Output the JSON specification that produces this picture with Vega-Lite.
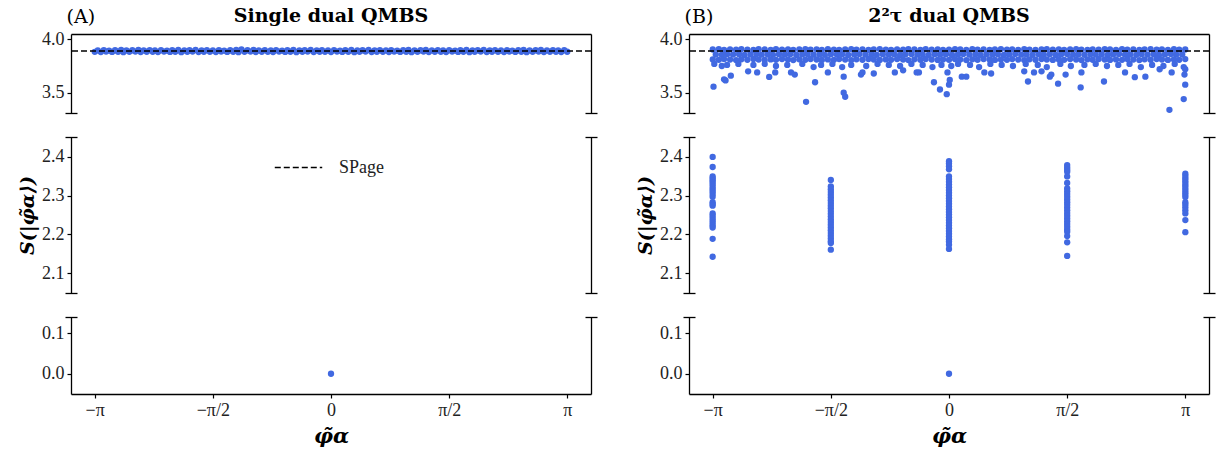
{
"$schema": "https://vega.github.io/schema/vega-lite/v6.json",
"padding": {"left": 18, "top": 7, "right": 2, "bottom": 2},
"config": {
  "font": "Liberation Serif",
  "view": {"stroke": null},
  "axis": {"grid": false, "domainColor": "black", "domainWidth": 1.3, "tickColor": "black", "tickWidth": 1.2, "tickSize": 4, "labelFont": "Liberation Serif", "labelFontSize": 18, "labelColor": "#222", "labelPadding": 3, "titleFont": "DejaVu Serif", "titleColor": "black"},
  "title": {"font": "DejaVu Serif", "fontSize": 19, "fontWeight": "bold", "color": "black"},
  "circle": {"color": "#4169e1", "opacity": 1, "size": 40}
},
"datasets": {
"z": [{"x": 0, "y": 0}],
"a": [{"x":-3.14,"y":3.883},{"x":-3.06,"y":3.881},{"x":-2.99,"y":3.885},{"x":-2.91,"y":3.882},{"x":-2.83,"y":3.884},{"x":-2.76,"y":3.88},{"x":-2.68,"y":3.883},{"x":-2.6,"y":3.885},{"x":-2.53,"y":3.881},{"x":-2.45,"y":3.884},{"x":-2.37,"y":3.883},{"x":-2.3,"y":3.881},{"x":-2.22,"y":3.885},{"x":-2.14,"y":3.882},{"x":-2.07,"y":3.884},{"x":-1.99,"y":3.88},{"x":-1.91,"y":3.883},{"x":-1.84,"y":3.885},{"x":-1.76,"y":3.881},{"x":-1.69,"y":3.884},{"x":-1.61,"y":3.883},{"x":-1.53,"y":3.881},{"x":-1.46,"y":3.885},{"x":-1.38,"y":3.882},{"x":-1.3,"y":3.884},{"x":-1.23,"y":3.88},{"x":-1.15,"y":3.883},{"x":-1.07,"y":3.885},{"x":-1.0,"y":3.881},{"x":-0.92,"y":3.884},{"x":-0.84,"y":3.883},{"x":-0.77,"y":3.881},{"x":-0.69,"y":3.885},{"x":-0.61,"y":3.882},{"x":-0.54,"y":3.884},{"x":-0.46,"y":3.88},{"x":-0.38,"y":3.883},{"x":-0.31,"y":3.885},{"x":-0.23,"y":3.881},{"x":-0.15,"y":3.884},{"x":-0.08,"y":3.883},{"x":0,"y":3.881},{"x":0.08,"y":3.885},{"x":0.15,"y":3.882},{"x":0.23,"y":3.884},{"x":0.31,"y":3.88},{"x":0.38,"y":3.883},{"x":0.46,"y":3.885},{"x":0.54,"y":3.881},{"x":0.61,"y":3.884},{"x":0.69,"y":3.883},{"x":0.77,"y":3.881},{"x":0.84,"y":3.885},{"x":0.92,"y":3.882},{"x":1.0,"y":3.884},{"x":1.07,"y":3.88},{"x":1.15,"y":3.883},{"x":1.23,"y":3.885},{"x":1.3,"y":3.881},{"x":1.38,"y":3.884},{"x":1.46,"y":3.883},{"x":1.53,"y":3.881},{"x":1.61,"y":3.885},{"x":1.69,"y":3.882},{"x":1.76,"y":3.884},{"x":1.84,"y":3.88},{"x":1.91,"y":3.883},{"x":1.99,"y":3.885},{"x":2.07,"y":3.881},{"x":2.14,"y":3.884},{"x":2.22,"y":3.883},{"x":2.3,"y":3.881},{"x":2.37,"y":3.885},{"x":2.45,"y":3.882},{"x":2.53,"y":3.884},{"x":2.6,"y":3.88},{"x":2.68,"y":3.883},{"x":2.76,"y":3.885},{"x":2.83,"y":3.881},{"x":2.91,"y":3.884},{"x":2.99,"y":3.883},{"x":3.06,"y":3.881},{"x":3.14,"y":3.884},
{"x":-3.1,"y":3.897},{"x":-3.02,"y":3.899},{"x":-2.95,"y":3.895},{"x":-2.87,"y":3.898},{"x":-2.79,"y":3.9},{"x":-2.72,"y":3.896},{"x":-2.64,"y":3.898},{"x":-2.56,"y":3.901},{"x":-2.49,"y":3.897},{"x":-2.41,"y":3.899},{"x":-2.34,"y":3.897},{"x":-2.26,"y":3.899},{"x":-2.18,"y":3.895},{"x":-2.11,"y":3.898},{"x":-2.03,"y":3.9},{"x":-1.95,"y":3.896},{"x":-1.88,"y":3.898},{"x":-1.8,"y":3.901},{"x":-1.72,"y":3.897},{"x":-1.65,"y":3.899},{"x":-1.57,"y":3.897},{"x":-1.49,"y":3.899},{"x":-1.42,"y":3.895},{"x":-1.34,"y":3.898},{"x":-1.26,"y":3.9},{"x":-1.19,"y":3.906},{"x":-1.11,"y":3.898},{"x":-1.03,"y":3.901},{"x":-0.96,"y":3.897},{"x":-0.88,"y":3.899},{"x":-0.8,"y":3.897},{"x":-0.73,"y":3.899},{"x":-0.65,"y":3.895},{"x":-0.58,"y":3.898},{"x":-0.5,"y":3.9},{"x":-0.42,"y":3.896},{"x":-0.35,"y":3.898},{"x":-0.27,"y":3.901},{"x":-0.19,"y":3.897},{"x":-0.12,"y":3.899},{"x":-0.04,"y":3.897},{"x":0.04,"y":3.899},{"x":0.12,"y":3.895},{"x":0.19,"y":3.898},{"x":0.27,"y":3.9},{"x":0.35,"y":3.896},{"x":0.42,"y":3.898},{"x":0.5,"y":3.901},{"x":0.58,"y":3.897},{"x":0.65,"y":3.899},{"x":0.73,"y":3.897},{"x":0.8,"y":3.899},{"x":0.88,"y":3.895},{"x":0.96,"y":3.898},{"x":1.03,"y":3.9},{"x":1.11,"y":3.896},{"x":1.19,"y":3.898},{"x":1.26,"y":3.901},{"x":1.34,"y":3.897},{"x":1.42,"y":3.899},{"x":1.49,"y":3.897},{"x":1.57,"y":3.899},{"x":1.65,"y":3.895},{"x":1.72,"y":3.898},{"x":1.8,"y":3.9},{"x":1.88,"y":3.896},{"x":1.95,"y":3.898},{"x":2.03,"y":3.901},{"x":2.11,"y":3.897},{"x":2.18,"y":3.899},{"x":2.26,"y":3.897},{"x":2.34,"y":3.899},{"x":2.41,"y":3.895},{"x":2.49,"y":3.898},{"x":2.56,"y":3.9},{"x":2.64,"y":3.896},{"x":2.72,"y":3.898},{"x":2.79,"y":3.901},{"x":2.87,"y":3.897},{"x":2.95,"y":3.899},{"x":3.02,"y":3.897},{"x":3.1,"y":3.899}],
"b": [{"x":-3.14,"y":3.905},{"x":-3.06,"y":3.908},{"x":-2.99,"y":3.902},{"x":-2.91,"y":3.906},{"x":-2.83,"y":3.903},{"x":-2.76,"y":3.909},{"x":-2.68,"y":3.904},{"x":-2.6,"y":3.901},{"x":-2.53,"y":3.907},{"x":-2.45,"y":3.905},{"x":-2.37,"y":3.902},{"x":-2.3,"y":3.908},{"x":-2.22,"y":3.904},{"x":-2.14,"y":3.906},{"x":-2.07,"y":3.901},{"x":-1.99,"y":3.905},{"x":-1.91,"y":3.909},{"x":-1.84,"y":3.903},{"x":-1.76,"y":3.906},{"x":-1.69,"y":3.902},{"x":-1.61,"y":3.907},{"x":-1.53,"y":3.904},{"x":-1.46,"y":3.901},{"x":-1.38,"y":3.905},{"x":-1.3,"y":3.908},{"x":-1.23,"y":3.903},{"x":-1.15,"y":3.906},{"x":-1.07,"y":3.902},{"x":-1.0,"y":3.905},{"x":-0.92,"y":3.909},{"x":-0.84,"y":3.904},{"x":-0.77,"y":3.901},{"x":-0.69,"y":3.906},{"x":-0.61,"y":3.903},{"x":-0.54,"y":3.907},{"x":-0.46,"y":3.905},{"x":-0.38,"y":3.902},{"x":-0.31,"y":3.908},{"x":-0.23,"y":3.904},{"x":-0.15,"y":3.906},{"x":-0.08,"y":3.9},{"x":0,"y":3.903},{"x":0.08,"y":3.907},{"x":0.15,"y":3.905},{"x":0.23,"y":3.902},{"x":0.31,"y":3.908},{"x":0.38,"y":3.904},{"x":0.46,"y":3.906},{"x":0.54,"y":3.901},{"x":0.61,"y":3.905},{"x":0.69,"y":3.909},{"x":0.77,"y":3.903},{"x":0.84,"y":3.906},{"x":0.92,"y":3.902},{"x":1.0,"y":3.907},{"x":1.07,"y":3.904},{"x":1.15,"y":3.901},{"x":1.23,"y":3.905},{"x":1.3,"y":3.908},{"x":1.38,"y":3.903},{"x":1.46,"y":3.906},{"x":1.53,"y":3.9},{"x":1.61,"y":3.905},{"x":1.69,"y":3.909},{"x":1.76,"y":3.904},{"x":1.84,"y":3.901},{"x":1.91,"y":3.906},{"x":1.99,"y":3.903},{"x":2.07,"y":3.907},{"x":2.14,"y":3.905},{"x":2.22,"y":3.902},{"x":2.3,"y":3.908},{"x":2.37,"y":3.904},{"x":2.45,"y":3.906},{"x":2.53,"y":3.901},{"x":2.6,"y":3.905},{"x":2.68,"y":3.909},{"x":2.76,"y":3.903},{"x":2.83,"y":3.906},{"x":2.91,"y":3.902},{"x":2.99,"y":3.907},{"x":3.06,"y":3.904},{"x":3.14,"y":3.905},
{"x":-3.1,"y":3.858},{"x":-3.02,"y":3.855},{"x":-2.95,"y":3.861},{"x":-2.87,"y":3.857},{"x":-2.79,"y":3.86},{"x":-2.72,"y":3.854},{"x":-2.64,"y":3.859},{"x":-2.56,"y":3.862},{"x":-2.49,"y":3.856},{"x":-2.41,"y":3.858},{"x":-2.34,"y":3.855},{"x":-2.26,"y":3.861},{"x":-2.18,"y":3.857},{"x":-2.11,"y":3.86},{"x":-2.03,"y":3.854},{"x":-1.95,"y":3.859},{"x":-1.88,"y":3.862},{"x":-1.8,"y":3.856},{"x":-1.72,"y":3.858},{"x":-1.65,"y":3.855},{"x":-1.57,"y":3.861},{"x":-1.49,"y":3.857},{"x":-1.42,"y":3.86},{"x":-1.34,"y":3.854},{"x":-1.26,"y":3.859},{"x":-1.19,"y":3.862},{"x":-1.11,"y":3.856},{"x":-1.03,"y":3.858},{"x":-0.96,"y":3.855},{"x":-0.88,"y":3.861},{"x":-0.8,"y":3.857},{"x":-0.73,"y":3.86},{"x":-0.65,"y":3.854},{"x":-0.58,"y":3.859},{"x":-0.5,"y":3.862},{"x":-0.42,"y":3.856},{"x":-0.35,"y":3.858},{"x":-0.27,"y":3.855},{"x":-0.19,"y":3.861},{"x":-0.12,"y":3.857},{"x":-0.04,"y":3.86},{"x":0.04,"y":3.854},{"x":0.12,"y":3.859},{"x":0.19,"y":3.862},{"x":0.27,"y":3.856},{"x":0.35,"y":3.858},{"x":0.42,"y":3.855},{"x":0.5,"y":3.861},{"x":0.58,"y":3.857},{"x":0.65,"y":3.86},{"x":0.73,"y":3.854},{"x":0.8,"y":3.859},{"x":0.88,"y":3.862},{"x":0.96,"y":3.856},{"x":1.03,"y":3.858},{"x":1.11,"y":3.855},{"x":1.19,"y":3.861},{"x":1.26,"y":3.857},{"x":1.34,"y":3.86},{"x":1.42,"y":3.854},{"x":1.49,"y":3.859},{"x":1.57,"y":3.862},{"x":1.65,"y":3.856},{"x":1.72,"y":3.858},{"x":1.8,"y":3.855},{"x":1.88,"y":3.861},{"x":1.95,"y":3.857},{"x":2.03,"y":3.86},{"x":2.11,"y":3.854},{"x":2.18,"y":3.859},{"x":2.26,"y":3.862},{"x":2.34,"y":3.856},{"x":2.41,"y":3.858},{"x":2.49,"y":3.855},{"x":2.56,"y":3.861},{"x":2.64,"y":3.857},{"x":2.72,"y":3.86},{"x":2.79,"y":3.854},{"x":2.87,"y":3.859},{"x":2.95,"y":3.862},{"x":3.02,"y":3.856},{"x":3.1,"y":3.858},
{"x":-3.14,"y":3.812},{"x":-3.06,"y":3.808},{"x":-2.99,"y":3.815},{"x":-2.91,"y":3.81},{"x":-2.83,"y":3.806},{"x":-2.76,"y":3.813},{"x":-2.68,"y":3.809},{"x":-2.6,"y":3.816},{"x":-2.53,"y":3.811},{"x":-2.45,"y":3.807},{"x":-2.37,"y":3.812},{"x":-2.3,"y":3.808},{"x":-2.22,"y":3.815},{"x":-2.14,"y":3.81},{"x":-2.07,"y":3.806},{"x":-1.99,"y":3.813},{"x":-1.91,"y":3.809},{"x":-1.84,"y":3.816},{"x":-1.76,"y":3.811},{"x":-1.69,"y":3.807},{"x":-1.61,"y":3.812},{"x":-1.53,"y":3.808},{"x":-1.46,"y":3.815},{"x":-1.38,"y":3.81},{"x":-1.3,"y":3.806},{"x":-1.23,"y":3.813},{"x":-1.15,"y":3.809},{"x":-1.07,"y":3.816},{"x":-1.0,"y":3.811},{"x":-0.92,"y":3.807},{"x":-0.84,"y":3.812},{"x":-0.77,"y":3.808},{"x":-0.69,"y":3.815},{"x":-0.61,"y":3.81},{"x":-0.54,"y":3.806},{"x":-0.46,"y":3.813},{"x":-0.38,"y":3.809},{"x":-0.31,"y":3.816},{"x":-0.23,"y":3.811},{"x":-0.15,"y":3.807},{"x":-0.08,"y":3.812},{"x":0,"y":3.808},{"x":0.08,"y":3.815},{"x":0.15,"y":3.81},{"x":0.23,"y":3.806},{"x":0.31,"y":3.813},{"x":0.38,"y":3.809},{"x":0.46,"y":3.816},{"x":0.54,"y":3.811},{"x":0.61,"y":3.807},{"x":0.69,"y":3.812},{"x":0.77,"y":3.808},{"x":0.84,"y":3.815},{"x":0.92,"y":3.81},{"x":1.0,"y":3.806},{"x":1.07,"y":3.813},{"x":1.15,"y":3.809},{"x":1.23,"y":3.816},{"x":1.3,"y":3.811},{"x":1.38,"y":3.807},{"x":1.46,"y":3.812},{"x":1.53,"y":3.808},{"x":1.61,"y":3.815},{"x":1.69,"y":3.81},{"x":1.76,"y":3.806},{"x":1.84,"y":3.813},{"x":1.91,"y":3.809},{"x":1.99,"y":3.816},{"x":2.07,"y":3.811},{"x":2.14,"y":3.807},{"x":2.22,"y":3.812},{"x":2.3,"y":3.808},{"x":2.37,"y":3.815},{"x":2.45,"y":3.81},{"x":2.53,"y":3.806},{"x":2.6,"y":3.813},{"x":2.68,"y":3.809},{"x":2.76,"y":3.816},{"x":2.83,"y":3.811},{"x":2.91,"y":3.807},{"x":2.99,"y":3.812},{"x":3.06,"y":3.808},{"x":3.14,"y":3.815},
{"x":-3.12,"y":3.77},{"x":-3.02,"y":3.75},{"x":-2.95,"y":3.76},{"x":-2.8,"y":3.77},{"x":-2.6,"y":3.76},{"x":-2.45,"y":3.77},{"x":-2.3,"y":3.75},{"x":-2.15,"y":3.76},{"x":-1.95,"y":3.77},{"x":-1.8,"y":3.74},{"x":-1.7,"y":3.76},{"x":-1.55,"y":3.77},{"x":-1.42,"y":3.74},{"x":-1.3,"y":3.76},{"x":-1.1,"y":3.75},{"x":-0.95,"y":3.77},{"x":-0.8,"y":3.76},{"x":-0.65,"y":3.75},{"x":-0.5,"y":3.77},{"x":-0.35,"y":3.76},{"x":-0.22,"y":3.74},{"x":-0.1,"y":3.76},{"x":0.03,"y":3.75},{"x":0.12,"y":3.77},{"x":0.28,"y":3.76},{"x":0.4,"y":3.74},{"x":0.55,"y":3.77},{"x":0.7,"y":3.76},{"x":0.85,"y":3.75},{"x":1.02,"y":3.77},{"x":1.18,"y":3.76},{"x":1.3,"y":3.74},{"x":1.48,"y":3.77},{"x":1.62,"y":3.75},{"x":1.8,"y":3.76},{"x":1.95,"y":3.77},{"x":2.1,"y":3.75},{"x":2.25,"y":3.76},{"x":2.4,"y":3.77},{"x":2.55,"y":3.74},{"x":2.7,"y":3.76},{"x":2.85,"y":3.75},{"x":3.0,"y":3.77},{"x":3.12,"y":3.74},{"x":3.14,"y":3.72},
{"x":-3.13,"y":3.557},{"x":-2.99,"y":3.625},{"x":-2.97,"y":3.615},{"x":-2.9,"y":3.66},{"x":-2.67,"y":3.7},{"x":-2.55,"y":3.69},{"x":-2.39,"y":3.648},{"x":-2.31,"y":3.69},{"x":-2.1,"y":3.69},{"x":-2.05,"y":3.67},{"x":-1.9,"y":3.415},{"x":-1.78,"y":3.598},{"x":-1.61,"y":3.69},{"x":-1.4,"y":3.65},{"x":-1.4,"y":3.5},{"x":-1.38,"y":3.462},{"x":-1.17,"y":3.67},{"x":-1.15,"y":3.69},{"x":-1.0,"y":3.68},{"x":-0.72,"y":3.69},{"x":-0.61,"y":3.71},{"x":-0.43,"y":3.69},{"x":-0.4,"y":3.69},{"x":-0.2,"y":3.598},{"x":-0.12,"y":3.53},{"x":-0.03,"y":3.486},{"x":-0.02,"y":3.69},{"x":0.0,"y":3.575},{"x":0.01,"y":3.62},{"x":0.17,"y":3.65},{"x":0.23,"y":3.65},{"x":0.47,"y":3.69},{"x":0.56,"y":3.68},{"x":1.0,"y":3.7},{"x":1.05,"y":3.605},{"x":1.13,"y":3.69},{"x":1.23,"y":3.7},{"x":1.34,"y":3.65},{"x":1.36,"y":3.67},{"x":1.45,"y":3.585},{"x":1.55,"y":3.67},{"x":1.76,"y":3.69},{"x":1.75,"y":3.55},{"x":2.06,"y":3.605},{"x":2.34,"y":3.69},{"x":2.47,"y":3.646},{"x":2.61,"y":3.65},{"x":2.8,"y":3.72},{"x":2.96,"y":3.69},{"x":2.93,"y":3.34},{"x":3.13,"y":3.67},{"x":3.12,"y":3.44},{"x":3.14,"y":3.575}],
"m": [{"x":-3.1416,"y":2.399},{"x":-3.1416,"y":2.373},{"x":-3.1416,"y":2.349},{"x":-3.1416,"y":2.344},{"x":-3.1416,"y":2.339},{"x":-3.1416,"y":2.334},{"x":-3.1416,"y":2.328},{"x":-3.1416,"y":2.322},{"x":-3.1416,"y":2.316},{"x":-3.1416,"y":2.31},{"x":-3.1416,"y":2.304},{"x":-3.1416,"y":2.297},{"x":-3.1416,"y":2.283},{"x":-3.1416,"y":2.278},{"x":-3.1416,"y":2.274},{"x":-3.1416,"y":2.254},{"x":-3.1416,"y":2.248},{"x":-3.1416,"y":2.242},{"x":-3.1416,"y":2.236},{"x":-3.1416,"y":2.23},{"x":-3.1416,"y":2.224},{"x":-3.1416,"y":2.218},{"x":-3.1416,"y":2.189},{"x":-3.1416,"y":2.143},
{"x":-1.5708,"y":2.34},{"x":-1.5708,"y":2.323},{"x":-1.5708,"y":2.316},{"x":-1.5708,"y":2.309},{"x":-1.5708,"y":2.302},{"x":-1.5708,"y":2.295},{"x":-1.5708,"y":2.288},{"x":-1.5708,"y":2.281},{"x":-1.5708,"y":2.274},{"x":-1.5708,"y":2.267},{"x":-1.5708,"y":2.26},{"x":-1.5708,"y":2.253},{"x":-1.5708,"y":2.246},{"x":-1.5708,"y":2.239},{"x":-1.5708,"y":2.232},{"x":-1.5708,"y":2.225},{"x":-1.5708,"y":2.218},{"x":-1.5708,"y":2.211},{"x":-1.5708,"y":2.204},{"x":-1.5708,"y":2.197},{"x":-1.5708,"y":2.19},{"x":-1.5708,"y":2.183},{"x":-1.5708,"y":2.178},{"x":-1.5708,"y":2.161},
{"x":0,"y":2.388},{"x":0,"y":2.382},{"x":0,"y":2.375},{"x":0,"y":2.367},{"x":0,"y":2.349},{"x":0,"y":2.342},{"x":0,"y":2.335},{"x":0,"y":2.328},{"x":0,"y":2.321},{"x":0,"y":2.314},{"x":0,"y":2.307},{"x":0,"y":2.3},{"x":0,"y":2.293},{"x":0,"y":2.286},{"x":0,"y":2.279},{"x":0,"y":2.272},{"x":0,"y":2.265},{"x":0,"y":2.258},{"x":0,"y":2.251},{"x":0,"y":2.244},{"x":0,"y":2.237},{"x":0,"y":2.23},{"x":0,"y":2.223},{"x":0,"y":2.216},{"x":0,"y":2.209},{"x":0,"y":2.202},{"x":0,"y":2.195},{"x":0,"y":2.188},{"x":0,"y":2.182},{"x":0,"y":2.174},{"x":0,"y":2.163},
{"x":1.5708,"y":2.378},{"x":1.5708,"y":2.372},{"x":1.5708,"y":2.366},{"x":1.5708,"y":2.361},{"x":1.5708,"y":2.349},{"x":1.5708,"y":2.332},{"x":1.5708,"y":2.318},{"x":1.5708,"y":2.311},{"x":1.5708,"y":2.304},{"x":1.5708,"y":2.297},{"x":1.5708,"y":2.29},{"x":1.5708,"y":2.283},{"x":1.5708,"y":2.276},{"x":1.5708,"y":2.269},{"x":1.5708,"y":2.262},{"x":1.5708,"y":2.255},{"x":1.5708,"y":2.248},{"x":1.5708,"y":2.241},{"x":1.5708,"y":2.234},{"x":1.5708,"y":2.227},{"x":1.5708,"y":2.22},{"x":1.5708,"y":2.213},{"x":1.5708,"y":2.207},{"x":1.5708,"y":2.196},{"x":1.5708,"y":2.18},{"x":1.5708,"y":2.145},
{"x":3.1416,"y":2.356},{"x":3.1416,"y":2.35},{"x":3.1416,"y":2.344},{"x":3.1416,"y":2.338},{"x":3.1416,"y":2.332},{"x":3.1416,"y":2.326},{"x":3.1416,"y":2.32},{"x":3.1416,"y":2.314},{"x":3.1416,"y":2.308},{"x":3.1416,"y":2.302},{"x":3.1416,"y":2.296},{"x":3.1416,"y":2.283},{"x":3.1416,"y":2.277},{"x":3.1416,"y":2.27},{"x":3.1416,"y":2.262},{"x":3.1416,"y":2.254},{"x":3.1416,"y":2.237},{"x":3.1416,"y":2.206}]
},
"spacing": 38,
"hconcat": [
{
 "title": {"text": "(A)", "anchor": "start", "font": "DejaVu Serif", "fontWeight": "normal", "fontSize": 19, "dy": 24, "dx": 48},
 "spacing": 22,
 "vconcat": [
  {"width": 520, "height": 79,
   "title": {"text": "Single dual QMBS", "offset": 4},
   "layer": [
    {"data": {"name": "a"}, "mark": {"type": "circle"},
     "encoding": {"x": {"field": "x", "type": "quantitative", "scale": {"domain": [-3.456, 3.456], "nice": false, "zero": false}, "axis": {"orient": "top", "labels": false, "ticks": false, "title": null}},
                  "y": {"field": "y", "type": "quantitative", "scale": {"domain": [3.31, 4.05], "nice": false, "zero": false}, "axis": {"values": [3.5, 4.0], "format": ".1f", "title": null}}}},
    {"data": {"values": [{"v": 3.89, "k": "SPage"}]}, "mark": {"type": "rule", "strokeWidth": 1.5, "color": "black"},
     "encoding": {"y": {"field": "v", "type": "quantitative", "axis": null},
                  "strokeDash": {"field": "k", "type": "nominal", "scale": {"range": [[6, 3]]}, "legend": {"orient": "none", "legendX": 203, "legendY": 109, "title": null, "symbolType": "stroke", "symbolSize": 2250, "symbolStrokeWidth": 1.5, "symbolStrokeColor": "black", "labelFontSize": 18, "labelFont": "Liberation Serif", "labelColor": "#222", "labelOffset": 16}}}},
    {"data": {"name": "z"}, "mark": {"type": "point", "opacity": 0}, "encoding": {"x": {"datum": 0, "type": "quantitative"}, "y": {"datum": 3.5, "type": "quantitative", "axis": {"orient": "right", "labels": false, "ticks": false, "title": null}}}},
    {"data": {"name": "z"}, "mark": {"type": "point", "opacity": 0}, "encoding": {"x": {"datum": 0, "type": "quantitative"}, "y": {"datum": 3.5, "type": "quantitative", "axis": {"orient": "left", "offset": -6, "domain": false, "labels": false, "title": null, "values": [3.31], "tickSize": 12, "tickWidth": 1.3}}}},
    {"data": {"name": "z"}, "mark": {"type": "point", "opacity": 0}, "encoding": {"x": {"datum": 0, "type": "quantitative"}, "y": {"datum": 3.5, "type": "quantitative", "axis": {"orient": "right", "offset": -6, "domain": false, "labels": false, "title": null, "values": [3.31], "tickSize": 12, "tickWidth": 1.3}}}}
   ],
   "resolve": {"axis": {"y": "independent"}}
  },
  {"width": 520, "height": 156,
   "layer": [
    {"data": {"name": "z"}, "mark": {"type": "circle", "clip": true},
     "encoding": {"x": {"field": "x", "type": "quantitative", "scale": {"domain": [-3.456, 3.456], "nice": false, "zero": false}, "axis": null},
                  "y": {"field": "y", "type": "quantitative", "scale": {"domain": [2.05, 2.45], "nice": false, "zero": false}, "axis": {"values": [2.1, 2.2, 2.3, 2.4], "format": ".1f", "title": "S(|φ̃α⟩)", "titleFontSize": 19, "titleFontWeight": "bold", "titleFontStyle": "italic", "titlePadding": 4}}}},
    {"data": {"name": "z"}, "mark": {"type": "point", "opacity": 0}, "encoding": {"x": {"datum": 0, "type": "quantitative"}, "y": {"datum": 2.2, "type": "quantitative", "axis": {"orient": "right", "labels": false, "ticks": false, "title": null}}}},
    {"data": {"name": "z"}, "mark": {"type": "point", "opacity": 0}, "encoding": {"x": {"datum": 0, "type": "quantitative"}, "y": {"datum": 2.2, "type": "quantitative", "axis": {"orient": "left", "offset": -6, "domain": false, "labels": false, "title": null, "values": [2.05, 2.45], "tickSize": 12, "tickWidth": 1.3}}}},
    {"data": {"name": "z"}, "mark": {"type": "point", "opacity": 0}, "encoding": {"x": {"datum": 0, "type": "quantitative"}, "y": {"datum": 2.2, "type": "quantitative", "axis": {"orient": "right", "offset": -6, "domain": false, "labels": false, "title": null, "values": [2.05, 2.45], "tickSize": 12, "tickWidth": 1.3}}}}
   ],
   "resolve": {"axis": {"y": "independent"}}
  },
  {"width": 520, "height": 77,
   "layer": [
    {"data": {"name": "z"}, "mark": {"type": "circle"},
     "encoding": {"x": {"field": "x", "type": "quantitative", "scale": {"domain": [-3.456, 3.456], "nice": false, "zero": false}, "axis": {"values": [-3.14159265, -1.5707963, 0, 1.5707963, 3.14159265], "labelExpr": "datum.value < -3 ? '−π' : datum.value < -1 ? '−π/2' : datum.value > 3 ? 'π' : datum.value > 1 ? 'π/2' : '0'", "title": "φ̃α", "titleFontSize": 21, "titleFontWeight": "bold", "titleFontStyle": "italic", "titlePadding": 6}},
                  "y": {"field": "y", "type": "quantitative", "scale": {"domain": [-0.05, 0.14], "nice": false, "zero": false}, "axis": {"values": [0, 0.1], "format": ".1f", "title": null}}}},
    {"data": {"name": "z"}, "mark": {"type": "point", "opacity": 0}, "encoding": {"x": {"datum": 0, "type": "quantitative"}, "y": {"datum": 0.05, "type": "quantitative", "axis": {"orient": "right", "labels": false, "ticks": false, "title": null}}}},
    {"data": {"name": "z"}, "mark": {"type": "point", "opacity": 0}, "encoding": {"x": {"datum": 0, "type": "quantitative"}, "y": {"datum": 0.05, "type": "quantitative", "axis": {"orient": "left", "offset": -6, "domain": false, "labels": false, "title": null, "values": [0.14], "tickSize": 12, "tickWidth": 1.3}}}},
    {"data": {"name": "z"}, "mark": {"type": "point", "opacity": 0}, "encoding": {"x": {"datum": 0, "type": "quantitative"}, "y": {"datum": 0.05, "type": "quantitative", "axis": {"orient": "right", "offset": -6, "domain": false, "labels": false, "title": null, "values": [0.14], "tickSize": 12, "tickWidth": 1.3}}}}
   ],
   "resolve": {"axis": {"y": "independent"}}
  }
 ]
},
{
 "title": {"text": "(B)", "anchor": "start", "font": "DejaVu Serif", "fontWeight": "normal", "fontSize": 19, "dy": 24, "dx": 48},
 "spacing": 22,
 "vconcat": [
  {"width": 520, "height": 79,
   "title": {"text": "2²τ dual QMBS", "offset": 4},
   "layer": [
    {"data": {"name": "b"}, "mark": {"type": "circle"},
     "encoding": {"x": {"field": "x", "type": "quantitative", "scale": {"domain": [-3.456, 3.456], "nice": false, "zero": false}, "axis": {"orient": "top", "labels": false, "ticks": false, "title": null}},
                  "y": {"field": "y", "type": "quantitative", "scale": {"domain": [3.31, 4.05], "nice": false, "zero": false}, "axis": {"values": [3.5, 4.0], "format": ".1f", "title": null}}}},
    {"data": {"values": [{"v": 3.89}]}, "mark": {"type": "rule", "strokeWidth": 1.5, "color": "black", "strokeDash": [6, 3]},
     "encoding": {"y": {"field": "v", "type": "quantitative", "axis": null}}},
    {"data": {"name": "z"}, "mark": {"type": "point", "opacity": 0}, "encoding": {"x": {"datum": 0, "type": "quantitative"}, "y": {"datum": 3.5, "type": "quantitative", "axis": {"orient": "right", "labels": false, "ticks": false, "title": null}}}},
    {"data": {"name": "z"}, "mark": {"type": "point", "opacity": 0}, "encoding": {"x": {"datum": 0, "type": "quantitative"}, "y": {"datum": 3.5, "type": "quantitative", "axis": {"orient": "left", "offset": -6, "domain": false, "labels": false, "title": null, "values": [3.31], "tickSize": 12, "tickWidth": 1.3}}}},
    {"data": {"name": "z"}, "mark": {"type": "point", "opacity": 0}, "encoding": {"x": {"datum": 0, "type": "quantitative"}, "y": {"datum": 3.5, "type": "quantitative", "axis": {"orient": "right", "offset": -6, "domain": false, "labels": false, "title": null, "values": [3.31], "tickSize": 12, "tickWidth": 1.3}}}}
   ],
   "resolve": {"axis": {"y": "independent"}}
  },
  {"width": 520, "height": 156,
   "layer": [
    {"data": {"name": "m"}, "mark": {"type": "circle", "clip": true},
     "encoding": {"x": {"field": "x", "type": "quantitative", "scale": {"domain": [-3.456, 3.456], "nice": false, "zero": false}, "axis": null},
                  "y": {"field": "y", "type": "quantitative", "scale": {"domain": [2.05, 2.45], "nice": false, "zero": false}, "axis": {"values": [2.1, 2.2, 2.3, 2.4], "format": ".1f", "title": "S(|φ̃α⟩)", "titleFontSize": 19, "titleFontWeight": "bold", "titleFontStyle": "italic", "titlePadding": 4}}}},
    {"data": {"name": "z"}, "mark": {"type": "point", "opacity": 0}, "encoding": {"x": {"datum": 0, "type": "quantitative"}, "y": {"datum": 2.2, "type": "quantitative", "axis": {"orient": "right", "labels": false, "ticks": false, "title": null}}}},
    {"data": {"name": "z"}, "mark": {"type": "point", "opacity": 0}, "encoding": {"x": {"datum": 0, "type": "quantitative"}, "y": {"datum": 2.2, "type": "quantitative", "axis": {"orient": "left", "offset": -6, "domain": false, "labels": false, "title": null, "values": [2.05, 2.45], "tickSize": 12, "tickWidth": 1.3}}}},
    {"data": {"name": "z"}, "mark": {"type": "point", "opacity": 0}, "encoding": {"x": {"datum": 0, "type": "quantitative"}, "y": {"datum": 2.2, "type": "quantitative", "axis": {"orient": "right", "offset": -6, "domain": false, "labels": false, "title": null, "values": [2.05, 2.45], "tickSize": 12, "tickWidth": 1.3}}}}
   ],
   "resolve": {"axis": {"y": "independent"}}
  },
  {"width": 520, "height": 77,
   "layer": [
    {"data": {"name": "z"}, "mark": {"type": "circle"},
     "encoding": {"x": {"field": "x", "type": "quantitative", "scale": {"domain": [-3.456, 3.456], "nice": false, "zero": false}, "axis": {"values": [-3.14159265, -1.5707963, 0, 1.5707963, 3.14159265], "labelExpr": "datum.value < -3 ? '−π' : datum.value < -1 ? '−π/2' : datum.value > 3 ? 'π' : datum.value > 1 ? 'π/2' : '0'", "title": "φ̃α", "titleFontSize": 21, "titleFontWeight": "bold", "titleFontStyle": "italic", "titlePadding": 6}},
                  "y": {"field": "y", "type": "quantitative", "scale": {"domain": [-0.05, 0.14], "nice": false, "zero": false}, "axis": {"values": [0, 0.1], "format": ".1f", "title": null}}}},
    {"data": {"name": "z"}, "mark": {"type": "point", "opacity": 0}, "encoding": {"x": {"datum": 0, "type": "quantitative"}, "y": {"datum": 0.05, "type": "quantitative", "axis": {"orient": "right", "labels": false, "ticks": false, "title": null}}}},
    {"data": {"name": "z"}, "mark": {"type": "point", "opacity": 0}, "encoding": {"x": {"datum": 0, "type": "quantitative"}, "y": {"datum": 0.05, "type": "quantitative", "axis": {"orient": "left", "offset": -6, "domain": false, "labels": false, "title": null, "values": [0.14], "tickSize": 12, "tickWidth": 1.3}}}},
    {"data": {"name": "z"}, "mark": {"type": "point", "opacity": 0}, "encoding": {"x": {"datum": 0, "type": "quantitative"}, "y": {"datum": 0.05, "type": "quantitative", "axis": {"orient": "right", "offset": -6, "domain": false, "labels": false, "title": null, "values": [0.14], "tickSize": 12, "tickWidth": 1.3}}}}
   ],
   "resolve": {"axis": {"y": "independent"}}
  }
 ]
}
]
}
